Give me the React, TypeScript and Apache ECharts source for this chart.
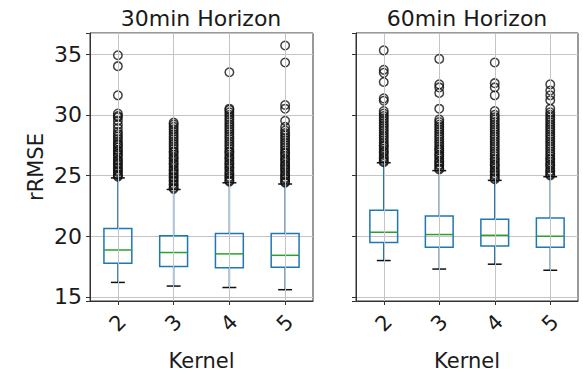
import React, { useEffect, useRef } from "react";
import * as echarts from "echarts";

const kernels = ["2", "3", "4", "5"];
const panelTitles = ["30min Horizon", "60min Horizon"];
const yLabelTicks = [15, 20, 25, 30, 35];

// [low whisker, q1, median, q3, high whisker]
const box30 = [
  [16.2, 17.78, 18.87, 20.63, 24.8],
  [15.9, 17.5, 18.66, 20.05, 23.85],
  [15.78, 17.4, 18.55, 20.22, 24.4],
  [15.6, 17.45, 18.43, 20.22, 24.3],
];
const box60 = [
  [18.0, 19.48, 20.33, 22.14, 26.05],
  [17.3, 19.1, 20.14, 21.67, 25.4],
  [17.7, 19.2, 20.08, 21.4, 24.6],
  [17.2, 19.1, 20.0, 21.5, 24.9],
];

const out30k2 = [24.9, 25.0, 25.1, 25.3, 25.4, 25.6, 25.7, 25.9, 26.0, 26.2, 26.3, 26.5, 26.7, 26.8, 27.0, 27.1, 27.3, 27.5, 27.6, 27.8, 28.0, 28.2, 28.4, 28.6, 28.9, 29.2, 29.5, 29.8, 29.9, 30.1, 31.6, 34.0, 34.9];
const out30k3 = [23.9, 24.0, 24.2, 24.3, 24.5, 24.6, 24.8, 24.9, 25.1, 25.2, 25.4, 25.5, 25.7, 25.9, 26.0, 26.2, 26.4, 26.5, 26.7, 26.9, 27.0, 27.2, 27.4, 27.6, 27.8, 28.0, 28.2, 28.4, 28.6, 28.8, 29.0, 29.2, 29.35];
const out30k4 = [24.5, 24.6, 24.8, 24.9, 25.1, 25.2, 25.4, 25.6, 25.7, 25.9, 26.0, 26.2, 26.4, 26.5, 26.7, 26.9, 27.0, 27.2, 27.4, 27.6, 27.8, 28.0, 28.2, 28.4, 28.6, 28.8, 29.0, 29.2, 29.4, 29.6, 29.8, 30.0, 30.2, 30.4, 30.5, 33.5];
const out30k5 = [24.4, 24.5, 24.7, 24.8, 25.0, 25.1, 25.3, 25.5, 25.6, 25.8, 25.9, 26.1, 26.3, 26.4, 26.6, 26.8, 26.9, 27.1, 27.3, 27.5, 27.7, 27.9, 28.1, 28.3, 28.5, 28.7, 29.0, 29.5, 30.5, 30.8, 34.3, 35.7];

const out60k2 = [26.1, 26.2, 26.4, 26.5, 26.7, 26.9, 27.0, 27.2, 27.4, 27.5, 27.7, 27.9, 28.1, 28.3, 28.5, 28.7, 28.9, 29.1, 29.3, 29.5, 29.7, 29.9, 30.1, 30.3, 31.15, 31.35, 32.7, 33.45, 33.7, 35.3];
const out60k3 = [25.5, 25.6, 25.8, 25.9, 26.1, 26.2, 26.4, 26.6, 26.7, 26.9, 27.1, 27.2, 27.4, 27.6, 27.8, 28.0, 28.2, 28.4, 28.6, 28.8, 29.0, 29.2, 29.4, 29.6, 30.5, 31.8, 32.25, 32.5, 34.6];
const out60k4 = [24.7, 24.8, 25.0, 25.1, 25.3, 25.4, 25.6, 25.8, 25.9, 26.1, 26.3, 26.4, 26.6, 26.8, 27.0, 27.2, 27.4, 27.6, 27.8, 28.0, 28.2, 28.4, 28.6, 28.8, 29.0, 29.2, 29.4, 29.6, 29.8, 30.0, 30.3, 31.6, 32.25, 32.6, 34.3];
const out60k5 = [25.0, 25.1, 25.3, 25.4, 25.6, 25.8, 25.9, 26.1, 26.3, 26.4, 26.6, 26.8, 27.0, 27.2, 27.4, 27.6, 27.8, 28.0, 28.2, 28.4, 28.6, 28.8, 29.0, 29.2, 29.4, 29.6, 29.8, 30.0, 30.2, 30.5, 31.2, 31.6, 32.0, 32.5];

const outliers30 = [out30k2, out30k3, out30k4, out30k5];
const outliers60 = [out60k2, out60k3, out60k4, out60k5];

const Y_MIN = 14.67;
const Y_MAX = 36.73;

const BLUE = "#1f77b4";
const GREEN = "#2ca02c";
const FONT = "DejaVu Sans";
const TEXT = "#1a1a1a";
const AXIS = "#333";
const GRIDC = "#c4c4c4";

function boxSeries(idx: number, boxes: number[][]) {
  return {
    type: "custom",
    xAxisIndex: idx,
    yAxisIndex: idx,
    z: 2,
    encode: { x: 0, y: [1, 2, 3, 4, 5] },
    data: boxes.map((b, i) => [i, ...b]),
    markLine: {
      silent: true,
      symbol: ["none", "none"],
      label: { show: false },
      lineStyle: { color: GRIDC, type: "solid", width: 1 },
      data: kernels.map((k) => ({ xAxis: k })),
    },
    renderItem: (params: any, api: any) => {
      const x = api.value(0);
      const pLow = api.coord([x, api.value(1)]);
      const pQ1 = api.coord([x, api.value(2)]);
      const pMed = api.coord([x, api.value(3)]);
      const pQ3 = api.coord([x, api.value(4)]);
      const pHigh = api.coord([x, api.value(5)]);
      const bw = api.size([1, 0])[0] * 0.5;
      const cw = bw * 0.5;
      const cx = pMed[0];
      const lw = 1.5;
      return {
        type: "group",
        children: [
          { type: "line", shape: { x1: cx, y1: pQ3[1], x2: cx, y2: pHigh[1] }, style: { stroke: BLUE, lineWidth: lw } },
          { type: "line", shape: { x1: cx, y1: pQ1[1], x2: cx, y2: pLow[1] }, style: { stroke: BLUE, lineWidth: lw } },
          { type: "rect", shape: { x: cx - bw / 2, y: pQ3[1], width: bw, height: pQ1[1] - pQ3[1] }, style: { fill: "none", stroke: BLUE, lineWidth: lw } },
          { type: "line", shape: { x1: cx - bw / 2, y1: pMed[1], x2: cx + bw / 2, y2: pMed[1] }, style: { stroke: GREEN, lineWidth: lw } },
          { type: "line", shape: { x1: cx - cw / 2, y1: pHigh[1], x2: cx + cw / 2, y2: pHigh[1] }, style: { stroke: "#111", lineWidth: lw } },
          { type: "line", shape: { x1: cx - cw / 2, y1: pLow[1], x2: cx + cw / 2, y2: pLow[1] }, style: { stroke: "#111", lineWidth: lw } },
        ],
      };
    },
  };
}

function flierSeries(idx: number, outs: number[][]) {
  const data: number[][] = [];
  outs.forEach((arr, i) => arr.forEach((v) => data.push([i, v])));
  return {
    type: "scatter",
    xAxisIndex: idx,
    yAxisIndex: idx,
    z: 3,
    symbol: "circle",
    symbolSize: 8.5,
    itemStyle: { color: "rgba(0,0,0,0)", borderColor: "#111", borderWidth: 1.5 },
    data,
  };
}

export default function App() {
  const ref = useRef<HTMLDivElement>(null);
  useEffect(() => {
    if (!ref.current) return;
    const chart = echarts.init(ref.current, null, { renderer: "svg" });
    const grids = [
      { left: 90, right: 270, top: 33, bottom: 73 },
      { left: 356, right: 5, top: 33, bottom: 73 },
    ];
    const xAxis = [0, 1].map((i) => ({
      type: "category",
      gridIndex: i,
      data: kernels,
      boundaryGap: true,
      name: "Kernel",
      nameLocation: "middle",
      nameGap: 60,
      nameTextStyle: { fontFamily: FONT, fontSize: 21, color: TEXT, verticalAlign: "middle" },
      axisLine: { show: true, lineStyle: { color: AXIS, width: 1 } },
      axisTick: { show: true, alignWithLabel: true, length: 4, lineStyle: { color: AXIS } },
      axisLabel: {
        rotate: 45,
        align: "center",
        verticalAlign: "middle",
        margin: 22,
        fontFamily: FONT,
        fontSize: 21,
        color: TEXT,
      },
      splitLine: { show: false },
    }));
    const yAxis = [0, 1].map((i) => ({
      type: "value",
      gridIndex: i,
      min: Y_MIN,
      max: Y_MAX,
      name: i === 0 ? "rRMSE" : "",
      nameLocation: "middle",
      nameGap: 44,
      nameTextStyle: { fontFamily: FONT, fontSize: 21, color: TEXT },
      axisLine: { show: true, lineStyle: { color: AXIS, width: 1 } },
      axisTick: { show: true, length: 4, lineStyle: { color: AXIS } },
      axisLabel: {
        show: i === 0,
        margin: 8,
        fontFamily: FONT,
        fontSize: 22,
        color: TEXT,
        showMinLabel: true,
        showMaxLabel: true,
        formatter: (v: number) => (yLabelTicks.indexOf(Math.round(v * 1000) / 1000) >= 0 ? String(v) : ""),
      },
      splitLine: { show: true, lineStyle: { color: GRIDC, width: 1 } },
    }));
    chart.setOption({
      animation: false,
      backgroundColor: "#fff",
      grid: grids.map((g) => ({
        ...g,
        containLabel: false,
        outerBoundsMode: "none",
        show: true,
        borderColor: AXIS,
        borderWidth: 1,
        backgroundColor: "transparent",
      })),
      xAxis,
      yAxis,
      graphic: [
        { type: "text", x: 201, y: 18, style: { text: panelTitles[0], fontFamily: FONT, fontSize: 22, fill: TEXT, textAlign: "center", textVerticalAlign: "middle" } },
        { type: "text", x: 467, y: 18, style: { text: panelTitles[1], fontFamily: FONT, fontSize: 22, fill: TEXT, textAlign: "center", textVerticalAlign: "middle" } },
      ],
      series: [boxSeries(0, box30), flierSeries(0, outliers30), boxSeries(1, box60), flierSeries(1, outliers60)],
    });
    return () => chart.dispose();
  }, []);
  return (
    <div
      ref={ref}
      style={{ position: "absolute", left: 0, top: 0, width: 583, height: 374, overflow: "hidden" }}
    />
  );
}
